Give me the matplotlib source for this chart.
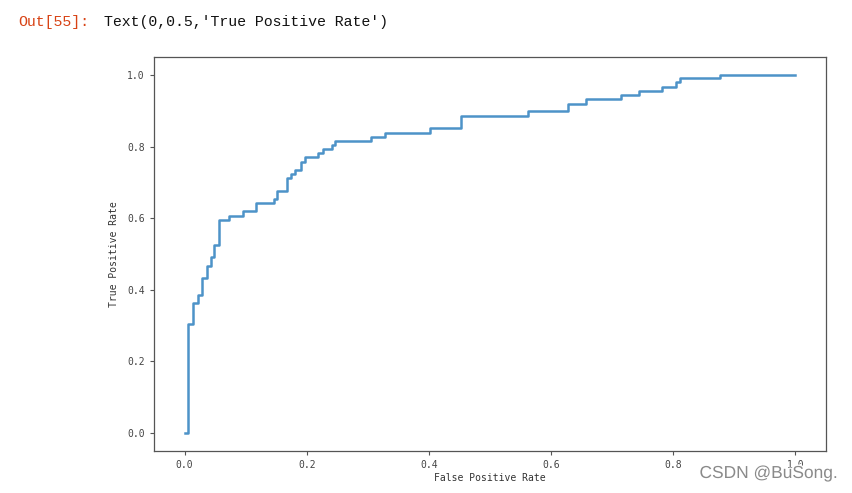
import matplotlib
matplotlib.use('Agg')
import matplotlib.pyplot as plt
import matplotlib.patheffects as pe

# ROC 曲线的拐点
fpr = [0.0, 0.0057, 0.014, 0.022, 0.028, 0.036, 0.043, 0.049, 0.057, 0.073,
       0.095, 0.117, 0.146, 0.151, 0.168, 0.174, 0.181, 0.190, 0.197, 0.219,
       0.226, 0.241, 0.247, 0.306, 0.328, 0.401, 0.452, 0.563, 0.628, 0.657,
       0.714, 0.744, 0.782, 0.804, 0.811, 0.877, 1.0]
tpr = [0.0, 0.305, 0.363, 0.386, 0.434, 0.467, 0.491, 0.525, 0.596, 0.607,
       0.619, 0.643, 0.653, 0.676, 0.711, 0.723, 0.734, 0.757, 0.770, 0.782,
       0.792, 0.803, 0.815, 0.828, 0.839, 0.851, 0.886, 0.899, 0.920, 0.932,
       0.944, 0.956, 0.967, 0.980, 0.990, 1.0, 1.0]

xticks = [0.0, 0.2, 0.4, 0.6, 0.8, 1.0]
yticks = [0.0, 0.2, 0.4, 0.6, 0.8, 1.0]

mono = ['DejaVu Sans Mono']

fig = plt.figure(figsize=(8.53, 4.93), dpi=100)
ax = fig.add_axes([154 / 853, 1 - 451 / 493, 672 / 853, 394 / 493])

ax.plot(fpr, tpr, drawstyle='steps-post', color='#3a87c2', linewidth=1.8, alpha=0.9)
ax.set_xlim(-0.05, 1.05)
ax.set_ylim(-0.05, 1.05)
ax.set_xticks(xticks)
ax.set_yticks(yticks)
ax.set_xticklabels([f'{v:.1f}' for v in xticks], family=mono, fontsize=7, color='#444')
ax.set_yticklabels([f'{v:.1f}' for v in yticks], family=mono, fontsize=7, color='#444')
ax.tick_params(length=3, width=0.8, color='#555')
for s in ax.spines.values():
    s.set_color('#555')
    s.set_linewidth(0.9)

ax.set_xlabel('False Positive Rate', family=mono, fontsize=7, color='#333', labelpad=2)
ax.set_ylabel('True Positive Rate', family=mono, fontsize=7, color='#333', labelpad=6)

# Jupyter 输出行
fig.text(18 / 853, 1 - 26 / 493, 'Out[55]:', family=['Liberation Mono'], fontsize=10.7,
         color='#D84315', va='baseline')
fig.text(104 / 853, 1 - 26 / 493, "Text(0,0.5,'True Positive Rate')", family=['Liberation Mono'],
         fontsize=10.7, color='#111', va='baseline')

# 水印
fig.text(838 / 853, 1 - 478 / 493, 'CSDN @BuSong.', fontsize=12.5, color='#8a8a8a',
         ha='right', va='baseline', family=['Liberation Sans', 'DejaVu Sans'],
         path_effects=[pe.withStroke(linewidth=2, foreground='white')])

plt.savefig('out.png', dpi=100)
plt.close()
